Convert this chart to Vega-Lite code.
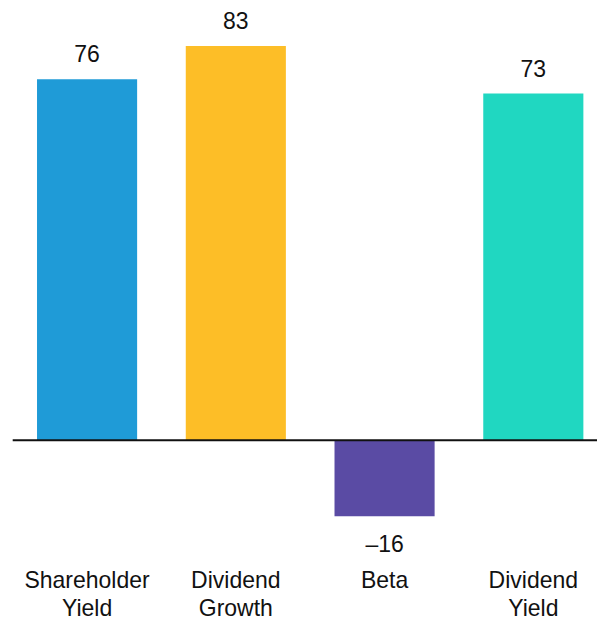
{
  "$schema": "https://vega.github.io/schema/vega-lite/v6.json",
  "width": 595,
  "height": 558,
  "autosize": {"type": "none"},
  "padding": {"left": 12.7, "top": 0.9, "right": 0, "bottom": 58},
  "background": "white",
  "config": {"view": {"stroke": null}, "font": "Liberation Sans"},
  "data": {
    "values": [
      {"factor": "Shareholder Yield", "value": 76},
      {"factor": "Dividend Growth", "value": 83},
      {"factor": "Beta", "value": -16},
      {"factor": "Dividend Yield", "value": 73}
    ]
  },
  "encoding": {
    "x": {
      "field": "factor",
      "type": "nominal",
      "sort": null,
      "scale": {"paddingInner": 0.327, "paddingOuter": 0.1635},
      "axis": {
        "title": null,
        "domain": false,
        "ticks": false,
        "tickSize": 0,
        "grid": false,
        "labelAngle": 0,
        "labelFont": "Liberation Sans",
        "labelFontSize": 23,
        "labelColor": "#111111",
        "labelPadding": 11,
        "labelBaseline": "top",
        "labelLineHeight": 27.5,
        "labelOverlap": false,
        "labelExpr": "split(datum.label, ' ')"
      }
    },
    "y": {
      "field": "value",
      "type": "quantitative",
      "scale": {"domain": [-25, 92.5], "nice": false, "zero": false},
      "axis": null
    }
  },
  "layer": [
    {
      "mark": {"type": "bar"},
      "encoding": {
        "color": {
          "field": "factor",
          "type": "nominal",
          "sort": null,
          "scale": {
            "domain": ["Shareholder Yield", "Dividend Growth", "Beta", "Dividend Yield"],
            "range": ["#1f9bd7", "#fdbe27", "#5a4ba4", "#20d7c1"]
          },
          "legend": null
        }
      }
    },
    {
      "transform": [{"filter": "datum.value >= 0"}],
      "mark": {"type": "text", "font": "Liberation Sans", "fontSize": 23, "color": "#111111", "baseline": "alphabetic", "dy": -17},
      "encoding": {"text": {"field": "value", "type": "quantitative", "format": "d"}}
    },
    {
      "transform": [{"filter": "datum.value < 0"}, {"calculate": "'–' + abs(datum.value)", "as": "lbl"}],
      "mark": {"type": "text", "font": "Liberation Sans", "fontSize": 23, "color": "#111111", "baseline": "alphabetic", "dy": 36},
      "encoding": {"text": {"field": "lbl", "type": "nominal"}}
    },
    {
      "data": {"values": [{"zero": 0}]},
      "mark": {"type": "rule", "color": "#111111", "strokeWidth": 2},
      "encoding": {"y": {"field": "zero", "type": "quantitative"}, "x": null}
    }
  ]
}
